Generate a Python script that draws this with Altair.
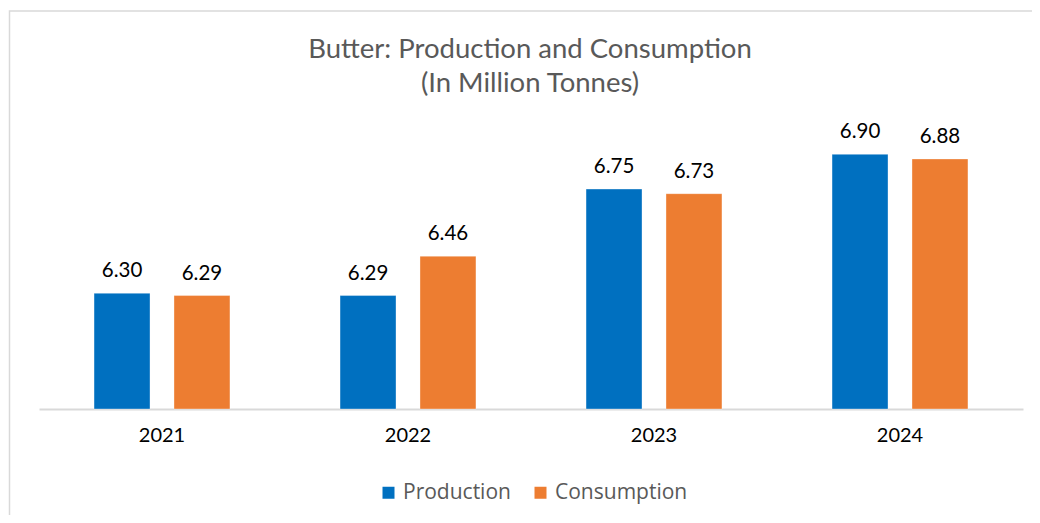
import altair as alt
import pandas as pd

years = ["2021", "2022", "2023", "2024"]
production = [6.30, 6.29, 6.75, 6.90]
consumption = [6.29, 6.46, 6.73, 6.88]
series = ["Production", "Consumption"]
colors = ["#0070C0", "#ED7D31"]
title_lines = ["Butter: Production and Consumption", "(In Million Tonnes)"]

rows = []
for i, y in enumerate(years):
    rows.append({"year": y, "series": "Production", "value": production[i]})
    rows.append({"year": y, "series": "Consumption", "value": consumption[i]})
df = pd.DataFrame(rows)

FONT = "Lato"

x = alt.X("year:N", sort=years, title=None,
          scale=alt.Scale(paddingInner=0.35, paddingOuter=0.175),
          axis=alt.Axis(labelAngle=0, labelFontSize=20, labelColor="#000000",
                        labelFont=FONT, labelPadding=16, ticks=False,
                        domainColor="#D9D9D9", domainWidth=2))
xo = alt.XOffset("series:N", sort=series,
                 scale=alt.Scale(paddingInner=0.3, paddingOuter=0.15))
y = alt.Y("value:Q", title=None,
          scale=alt.Scale(domain=[5.8, 7.1], zero=False, nice=False, clamp=True),
          axis=None)

one = pd.DataFrame({"a": [0]})

frame = alt.Chart(one).mark_rect(
    fill="transparent", stroke="#D9D9D9", strokeWidth=1.5
).encode(x=alt.value(-29.5), x2=alt.value(1060), y=alt.value(-97), y2=alt.value(440))

title1 = alt.Chart(one).mark_text(
    text=title_lines[0], fontSize=27.5, font=FONT, color="#595959",
    align="center", baseline="alphabetic"
).encode(x=alt.value(491), y=alt.value(-50))

title2 = alt.Chart(one).mark_text(
    text=title_lines[1], fontSize=27.5, font=FONT, color="#595959",
    align="center", baseline="alphabetic"
).encode(x=alt.value(491), y=alt.value(-16))

bars = alt.Chart(df).mark_bar(stroke="white", strokeOpacity=0.35, strokeWidth=1).encode(
    x=x, xOffset=xo, y=y,
    color=alt.Color("series:N", sort=series,
                    scale=alt.Scale(domain=series, range=colors),
                    legend=alt.Legend(title=None, orient="none", direction="horizontal",
                                      legendX=339, legendY=374,
                                      symbolType="square", symbolSize=144,
                                      symbolStrokeWidth=0, labelFontSize=21,
                                      labelFont="Open Sans", labelColor="#595959",
                                      labelOffset=4, columnPadding=19)),
)

labels = alt.Chart(df).mark_text(baseline="bottom", dy=-12, fontSize=20.5, font=FONT,
                                 color="#000000").encode(
    x=x, xOffset=xo, y=y, text=alt.Text("value:Q", format=".2f")
)

chart = alt.layer(frame, title1, title2, bars, labels).properties(
    width=984, height=301,
    autosize=alt.AutoSizeParams(type="none"),
    padding={"left": 31, "top": 100, "right": 9, "bottom": 106},
).configure_view(stroke=None)

chart.save("out.html", embed_options={"renderer": "svg", "actions": False})
